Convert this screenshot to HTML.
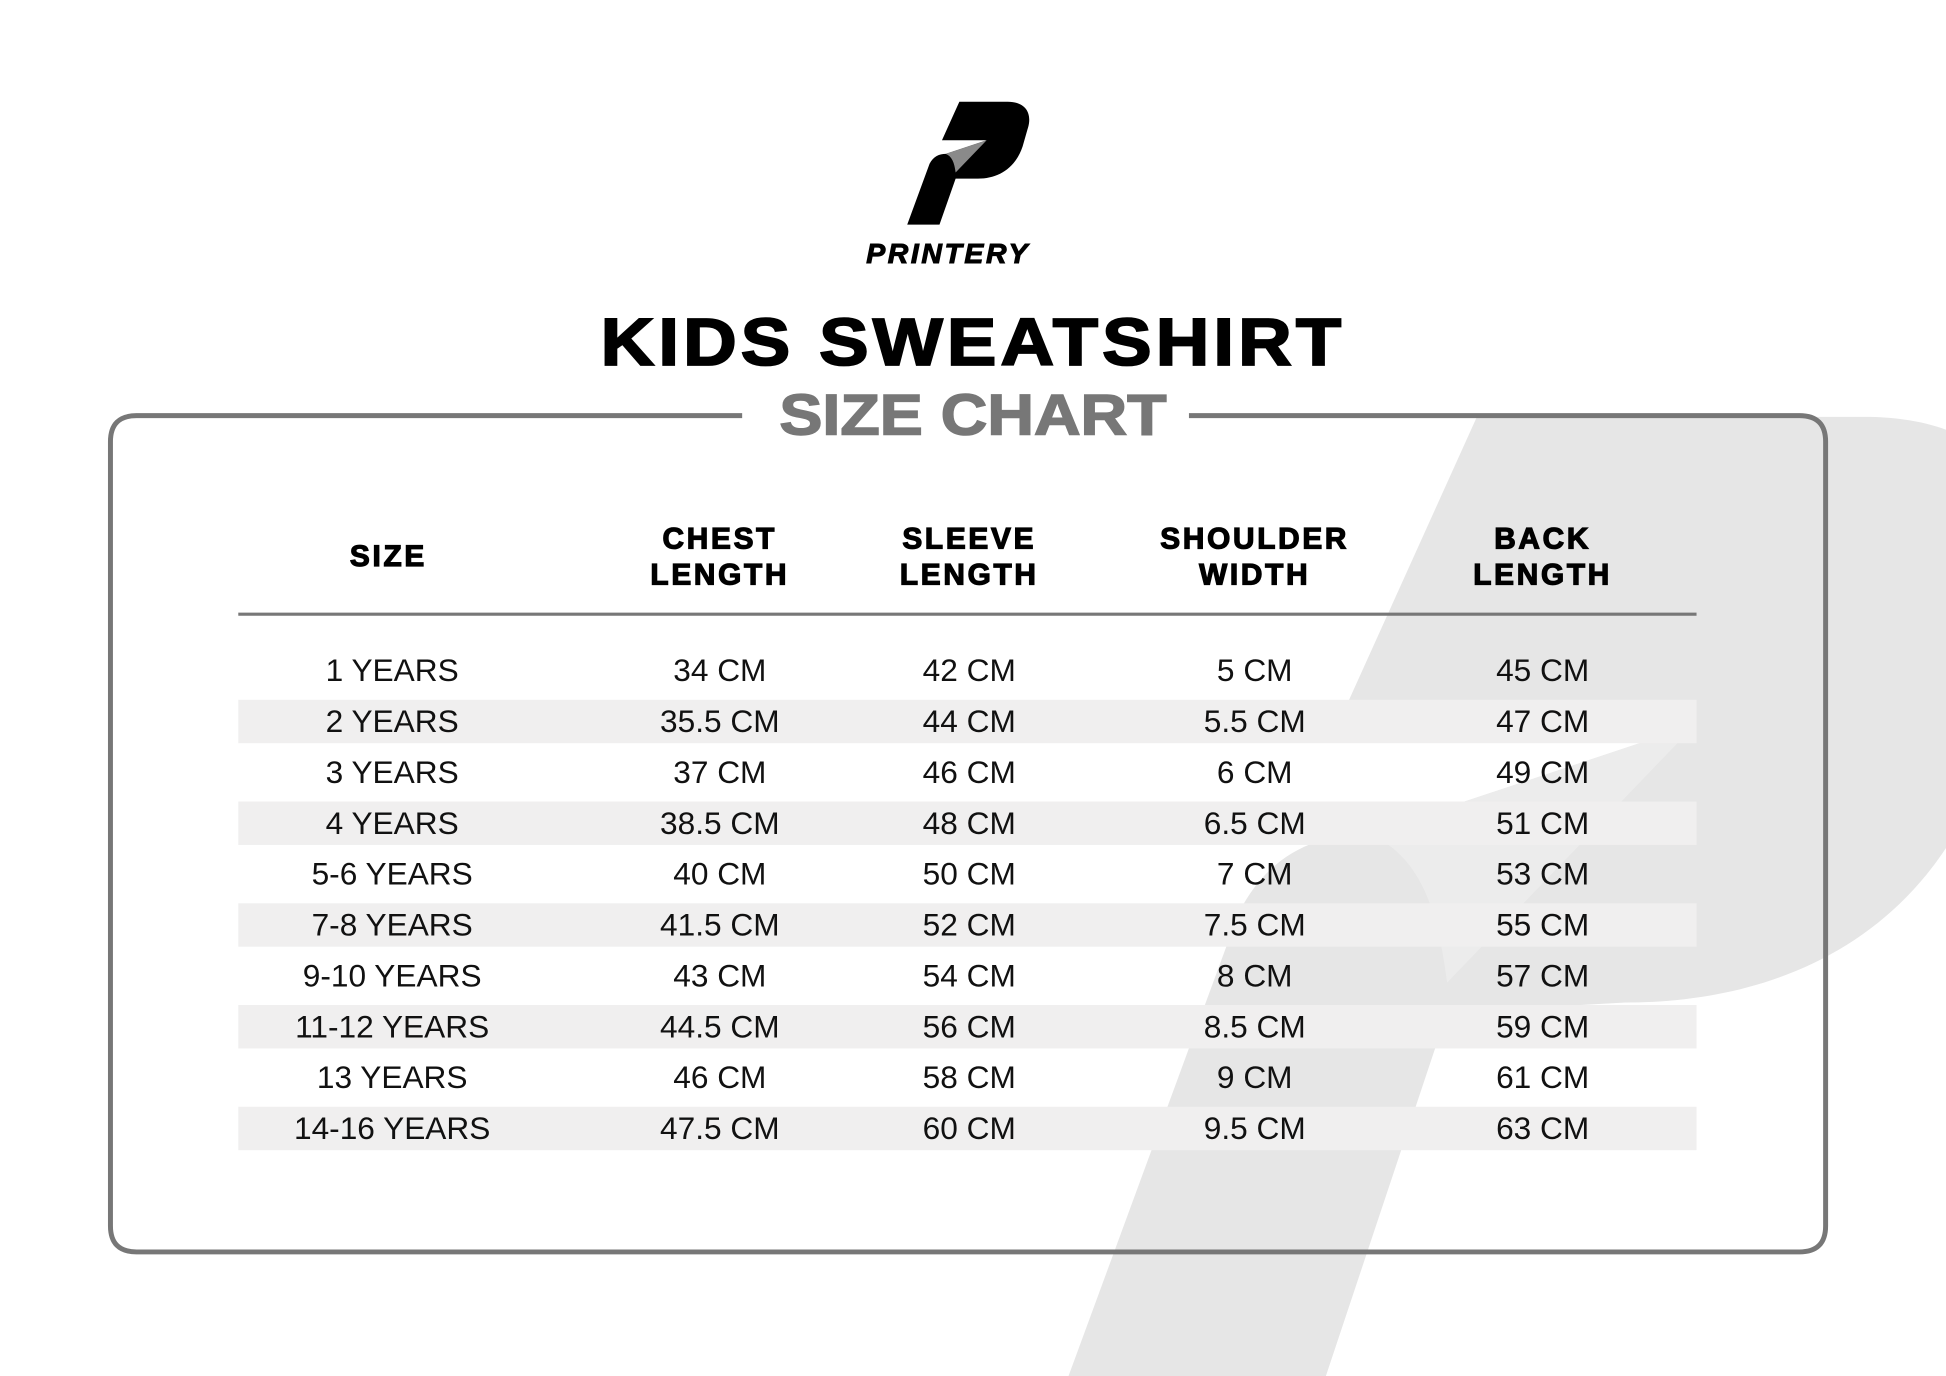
<!DOCTYPE html>
<html><head><meta charset="utf-8"><style>html,body{margin:0;padding:0;background:#fff}svg{display:block}</style></head>
<body>
<svg width="1946" height="1376" viewBox="0 0 1568 1109" preserveAspectRatio="none" xmlns="http://www.w3.org/2000/svg" font-family="Liberation Sans, sans-serif">
<rect width="1568" height="1109" fill="#fff"/>
<defs>
<path id="P" d="M773,82 L812,82 C827,82 832,92 828,104 L824,118 C818,134 804,141 788,141 L770,142 L757,181 L731,181 L749,132 C752,126 757,124 762,124 L795,113 L759,113 Z"/>
<path id="T" d="M762,124 L795,113 L770,139 C769,131 767,126 762,124 Z"/>
</defs>
<!-- watermark -->
<g transform="translate(1190,336) scale(8) translate(-773,-82)">
<use href="#P" fill="#e6e6e6"/>
<use href="#T" fill="#ececec"/>
</g>
<!-- logo -->
<g transform="translate(0,0)">
<path d="M773,82 L812,82 C827,82 832,92 828,104 L824,118 C818,136 804,144 788,144 L770,144 L757,181 L731,181 L749,132 C752,126 757,124 762,124 L795,113 L759,113 Z" fill="#000"/>
<use href="#T" fill="#8a8a8a"/>
</g>
<text x="764" y="212" text-anchor="middle" font-size="22" font-weight="bold" font-style="italic" letter-spacing="2" fill="#000" stroke="#000" stroke-width="0.8" textLength="132" lengthAdjust="spacingAndGlyphs">PRINTERY</text>
<text x="784" y="294" text-anchor="middle" font-size="54" font-weight="900" fill="#000" stroke="#000" stroke-width="1.5" letter-spacing="3" textLength="600" lengthAdjust="spacingAndGlyphs">KIDS SWEATSHIRT</text>
<text x="784" y="350" text-anchor="middle" font-size="46" font-weight="bold" fill="#777" stroke="#777" stroke-width="1.2" textLength="312" lengthAdjust="spacingAndGlyphs">SIZE CHART</text>
<!-- box -->
<path d="M598,335 L110,335 Q89,335 89,356 L89,988 Q89,1009 110,1009 L1450,1009 Q1471,1009 1471,988 L1471,356 Q1471,335 1450,335 L958,335" fill="none" stroke="#777" stroke-width="4"/>
<!-- header -->
<g font-size="24" font-weight="bold" fill="#000" stroke="#000" stroke-width="1" letter-spacing="2.2" text-anchor="middle">
<text x="313" y="456">SIZE</text>
<text x="580" y="442">CHEST</text><text x="580" y="471">LENGTH</text>
<text x="781" y="442">SLEEVE</text><text x="781" y="471">LENGTH</text>
<text x="1011" y="442">SHOULDER</text><text x="1011" y="471">WIDTH</text>
<text x="1243" y="442">BACK</text><text x="1243" y="471">LENGTH</text>
</g>
<line x1="192" y1="495" x2="1367" y2="495" stroke="#777" stroke-width="2.5"/>
<g fill="#f0efef">
<rect x="192" y="564" width="1175" height="35"/>
<rect x="192" y="646" width="1175" height="35"/>
<rect x="192" y="728" width="1175" height="35"/>
<rect x="192" y="810" width="1175" height="35"/>
<rect x="192" y="892" width="1175" height="35"/>
</g>
<g font-size="25.5" fill="#111" text-anchor="middle">
<text x="316" y="549">1 YEARS</text><text x="580" y="549">34 CM</text><text x="781" y="549">42 CM</text><text x="1011" y="549">5 CM</text><text x="1243" y="549">45 CM</text>
<text x="316" y="590">2 YEARS</text><text x="580" y="590">35.5 CM</text><text x="781" y="590">44 CM</text><text x="1011" y="590">5.5 CM</text><text x="1243" y="590">47 CM</text>
<text x="316" y="631">3 YEARS</text><text x="580" y="631">37 CM</text><text x="781" y="631">46 CM</text><text x="1011" y="631">6 CM</text><text x="1243" y="631">49 CM</text>
<text x="316" y="672">4 YEARS</text><text x="580" y="672">38.5 CM</text><text x="781" y="672">48 CM</text><text x="1011" y="672">6.5 CM</text><text x="1243" y="672">51 CM</text>
<text x="316" y="713">5-6 YEARS</text><text x="580" y="713">40 CM</text><text x="781" y="713">50 CM</text><text x="1011" y="713">7 CM</text><text x="1243" y="713">53 CM</text>
<text x="316" y="754">7-8 YEARS</text><text x="580" y="754">41.5 CM</text><text x="781" y="754">52 CM</text><text x="1011" y="754">7.5 CM</text><text x="1243" y="754">55 CM</text>
<text x="316" y="795">9-10 YEARS</text><text x="580" y="795">43 CM</text><text x="781" y="795">54 CM</text><text x="1011" y="795">8 CM</text><text x="1243" y="795">57 CM</text>
<text x="316" y="836">11-12 YEARS</text><text x="580" y="836">44.5 CM</text><text x="781" y="836">56 CM</text><text x="1011" y="836">8.5 CM</text><text x="1243" y="836">59 CM</text>
<text x="316" y="877">13 YEARS</text><text x="580" y="877">46 CM</text><text x="781" y="877">58 CM</text><text x="1011" y="877">9 CM</text><text x="1243" y="877">61 CM</text>
<text x="316" y="918">14-16 YEARS</text><text x="580" y="918">47.5 CM</text><text x="781" y="918">60 CM</text><text x="1011" y="918">9.5 CM</text><text x="1243" y="918">63 CM</text>
</g>
</svg>
</body></html>
